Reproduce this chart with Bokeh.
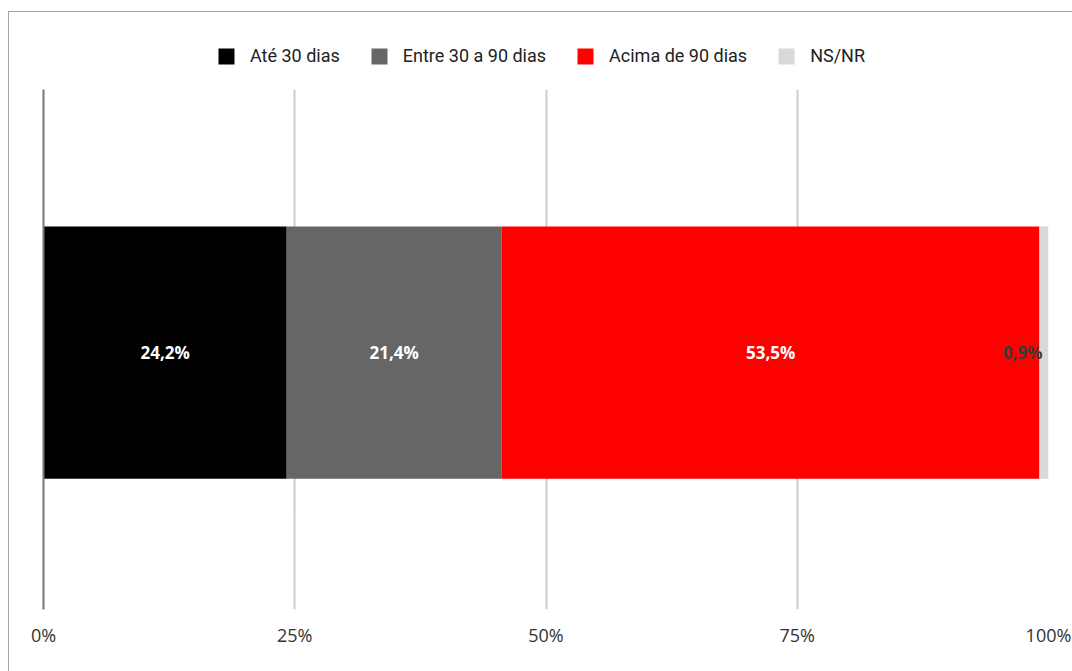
from bokeh.plotting import figure
from bokeh.layouts import column
from bokeh.models import (Range1d, FixedTicker, PrintfTickFormatter, Legend, LegendItem,
                          ColumnDataSource)
from bokeh.core.properties import value
from bokeh.embed import file_html
from bokeh.resources import INLINE

categories = ["Até 30 dias", "Entre 30 a 90 dias", "Acima de 90 dias", "NS/NR"]
values = [24.2, 21.4, 53.5, 0.9]
colors = ["#000000", "#666666", "#ff0000", "#d9d9d9"]
tick_values = [0, 25, 50, 75, 100]

# ---- legend strip (top) ----
lf = figure(width=1064, height=77, output_backend="svg", toolbar_location=None,
            x_range=Range1d(0, 1), y_range=Range1d(0, 1),
            x_axis_type=None, y_axis_type=None,
            min_border_left=0, min_border_right=0, min_border_top=0, min_border_bottom=0)
lf.outline_line_color = None
lf.xgrid.grid_line_color = None
lf.ygrid.grid_line_color = None
leg_renderers = []
for c in colors:
    # swatch holders, kept outside the visible range of the legend strip
    leg_renderers.append(lf.hbar(y=[-5], left=[0], right=[1], height=1,
                                 fill_color=c, line_color=None))
legend = Legend(items=[LegendItem(label=c, renderers=[r]) for c, r in zip(categories, leg_renderers)],
                orientation="horizontal", location=(173, 23))
legend.label_text_font = "Roboto"
legend.label_text_font_size = "18px"
legend.label_text_color = "#222222"
legend.glyph_width = 20
legend.glyph_height = 20
legend.label_standoff = 14
legend.spacing = 29
legend.padding = 4
legend.margin = 0
legend.border_line_color = None
legend.background_fill_alpha = 0
lf.add_layout(legend, "center")

# ---- main chart ----
p = figure(width=1064, height=583, output_backend="svg", toolbar_location=None,
           x_range=Range1d(0, 100), y_range=Range1d(0, 1),
           min_border_left=34, min_border_right=25, min_border_top=0, min_border_bottom=63)
p.outline_line_color = None

starts = []
acc = 0.0
for v in values:
    starts.append(acc)
    acc += v
ends = [s + v for s, v in zip(starts, values)]

bar_y = 0.494
bar_h = 0.485
for i, cat in enumerate(categories):
    p.hbar(y=[bar_y], left=[starts[i]], right=[ends[i]], height=bar_h,
           fill_color=colors[i], line_color=None)

labels = [f"{v:.1f}".replace(".", ",") + "%" for v in values]
centers = [(s + e) / 2 for s, e in zip(starts, ends)]
src_main = ColumnDataSource(dict(x=centers[:3], y=[bar_y] * 3, t=labels[:3]))
p.text(x="x", y="y", text="t", source=src_main, text_align="center", text_baseline="middle",
       text_color="#ffffff", text_font=value("Open Sans"), text_font_style="bold",
       text_font_size="17px")
src_small = ColumnDataSource(dict(x=[ends[3]], y=[bar_y], t=[labels[3]]))
p.text(x="x", y="y", text="t", source=src_small, text_align="right", text_baseline="middle",
       x_offset=-6, text_color="#3a3a3a", text_font=value("Open Sans"), text_font_style="bold",
       text_font_size="17px")

p.yaxis.major_label_text_font_size = "0px"
p.yaxis.major_tick_line_color = None
p.yaxis.minor_tick_line_color = None
p.yaxis.axis_line_color = "#777777"
p.yaxis.axis_line_width = 2
p.yaxis.ticker = FixedTicker(ticks=[])

p.xaxis.ticker = FixedTicker(ticks=tick_values)
p.xaxis.formatter = PrintfTickFormatter(format="%d%%")
p.xaxis.axis_line_color = None
p.xaxis.major_tick_line_color = None
p.xaxis.minor_tick_line_color = None
p.xaxis.major_label_text_font = "Open Sans"
p.xaxis.major_label_text_font_size = "18px"
p.xaxis.major_label_text_color = "#333333"
p.xaxis.major_label_standoff = 7

p.xgrid.ticker = FixedTicker(ticks=tick_values[1:])
p.xgrid.grid_line_color = "#cccccc"
p.xgrid.grid_line_width = 2
p.ygrid.grid_line_color = None

layout = column(lf, p, spacing=0)
layout.styles = {"border": "1px solid #a6a6a6", "margin-left": "8px", "margin-top": "11px"}

open("out.html", "w").write(file_html(layout, INLINE))
